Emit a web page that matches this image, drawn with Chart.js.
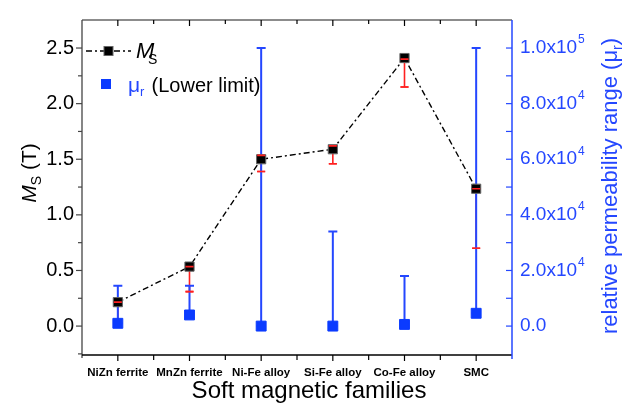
<!DOCTYPE html>
<html><head><meta charset="utf-8">
<script src="https://cdn.jsdelivr.net/npm/chart.js@4.4.0/dist/chart.umd.min.js"></script>
<style>html,body{margin:0;padding:0;background:#fff}#wrap{width:638px;height:409px;position:relative}</style>
</head><body><div id="wrap"><canvas id="c" width="638" height="409"></canvas></div>
<script>
const categories = ['NiZn ferrite','MnZn ferrite','Ni-Fe alloy','Si-Fe alloy','Co-Fe alloy','SMC'];
const msValues = [0.215, 0.535, 1.50, 1.59, 2.41, 1.235];
const msLow    = [0.01, 0.31, 1.39, 1.46, 2.15, 0.70];
const msHigh   = [0.215, 0.535, 1.535, 1.62, 2.40, 1.235];
const muLow    = [1000, 4000, 0, 0, 600, 4600];
const muHigh   = [14500, 14500, 100000, 34000, 18000, 100000];
const leftTicks = [0, 0.5, 1.0, 1.5, 2.0, 2.5];
const leftMinorTicks = [-0.25, 0.25, 0.75, 1.25, 1.75, 2.25];
const rightTicks = [0, 20000, 40000, 60000, 80000, 100000];
const rightMinorTicks = [10000, 30000, 50000, 70000, 90000];
const Y_MIN = -0.26, Y_MAX = 2.752, MU_PER_T = 40000;

const FONT = '"Liberation Sans", Arial, sans-serif';
const BLUE = '#2447ff';
const BLUE_SQ = '#0b3bff';
const RED = '#ff2020';

function vbar(ctx, x, y1, y2, hw) {
  ctx.beginPath();
  ctx.moveTo(x, y1); ctx.lineTo(x, y2);
  ctx.moveTo(x - hw, y1); ctx.lineTo(x + hw, y1);
  ctx.moveTo(x - hw, y2); ctx.lineTo(x + hw, y2);
  ctx.stroke();
}
function caps(ctx, x, y1, y2, hw) {
  ctx.beginPath();
  ctx.moveTo(x - hw, y1); ctx.lineTo(x + hw, y1);
  ctx.moveTo(x - hw, y2); ctx.lineTo(x + hw, y2);
  ctx.stroke();
}

const decor = {
  id: 'decor',
  beforeDatasetsDraw(chart) {
    const ctx = chart.ctx, xs = chart.scales.x, ys = chart.scales.y, y2 = chart.scales.y2;
    ctx.save();
    ctx.strokeStyle = RED; ctx.lineWidth = 1.6;
    categories.forEach((c, i) => {
      const x = xs.getPixelForValue(i);
      vbar(ctx, x, ys.getPixelForValue(msHigh[i]), ys.getPixelForValue(msLow[i]), 4);
    });
    ctx.strokeStyle = BLUE; ctx.lineWidth = 2;
    categories.forEach((c, i) => {
      const x = xs.getPixelForValue(i);
      vbar(ctx, x, y2.getPixelForValue(muHigh[i]), y2.getPixelForValue(muLow[i]), 4.5);
    });
    ctx.restore();
  },
  afterDatasetDraw(chart, args) {
    if (args.index !== 0) return;
    const ctx = chart.ctx, xs = chart.scales.x, ys = chart.scales.y;
    ctx.save();
    ctx.strokeStyle = RED; ctx.lineWidth = 1.6;
    categories.forEach((c, i) => {
      const x = xs.getPixelForValue(i);
      caps(ctx, x, ys.getPixelForValue(msHigh[i]), ys.getPixelForValue(msLow[i]), 4);
    });
    ctx.restore();
  },
  afterDraw(chart) {
    const ctx = chart.ctx, a = chart.chartArea;
    const xs = chart.scales.x, ys = chart.scales.y, y2 = chart.scales.y2;
    ctx.save();
    // frame
    ctx.lineWidth = 1.3;
    ctx.strokeStyle = '#666';
    ctx.beginPath(); ctx.moveTo(a.left, a.top); ctx.lineTo(a.right, a.top); ctx.stroke();
    ctx.strokeStyle = '#444';
    ctx.beginPath(); ctx.moveTo(a.left, a.top); ctx.lineTo(a.left, a.bottom + 3); ctx.stroke();
    ctx.strokeStyle = '#000';
    ctx.beginPath(); ctx.moveTo(a.left, a.bottom); ctx.lineTo(a.right, a.bottom); ctx.stroke();
    // x ticks (bottom outward, top inward)
    ctx.lineWidth = 1.2;
    for (let i = 0; i < categories.length; i++) {
      const x = xs.getPixelForValue(i);
      ctx.beginPath(); ctx.moveTo(x, a.bottom); ctx.lineTo(x, a.bottom + 6);
      ctx.moveTo(x, a.top); ctx.lineTo(x, a.top + 6); ctx.stroke();
    }
    for (let i = 0; i < categories.length - 1; i++) {
      const x = xs.getPixelForValue(i + 0.5);
      ctx.beginPath(); ctx.moveTo(x, a.bottom); ctx.lineTo(x, a.bottom + 5);
      ctx.moveTo(x, a.top); ctx.lineTo(x, a.top + 4); ctx.stroke();
    }
    // left ticks
    ctx.strokeStyle = '#444';
    leftTicks.forEach(v => { const y = ys.getPixelForValue(v); ctx.beginPath(); ctx.moveTo(a.left, y); ctx.lineTo(a.left - 6, y); ctx.stroke(); });
    leftMinorTicks.forEach(v => { const y = ys.getPixelForValue(v); ctx.beginPath(); ctx.moveTo(a.left, y); ctx.lineTo(a.left - 4, y); ctx.stroke(); });
    // right axis
    ctx.strokeStyle = BLUE; ctx.lineWidth = 1.5;
    ctx.beginPath(); ctx.moveTo(a.right, a.top); ctx.lineTo(a.right, a.bottom + 4); ctx.stroke();
    ctx.lineWidth = 1.2;
    rightTicks.concat(rightMinorTicks).forEach(v => { const y = y2.getPixelForValue(v); ctx.beginPath(); ctx.moveTo(a.right, y); ctx.lineTo(a.right - 6, y); ctx.stroke(); });
    // right tick labels with superscripts
    ctx.fillStyle = BLUE; ctx.textBaseline = 'middle'; ctx.textAlign = 'left';
    rightTicks.forEach(v => {
      const y = y2.getPixelForValue(v);
      const lx = a.right + 8;
      ctx.font = '19px ' + FONT;
      if (v === 0) { ctx.fillText('0.0', lx, y); return; }
      const e = Math.floor(Math.log10(v));
      const m = (v / Math.pow(10, e)).toFixed(1) + 'x10';
      ctx.fillText(m, lx, y);
      const w = ctx.measureText(m).width;
      ctx.font = '12px ' + FONT;
      ctx.fillText(String(e), lx + w + 1, y - 8);
    });
    // x title
    ctx.fillStyle = '#000'; ctx.textAlign = 'center'; ctx.textBaseline = 'alphabetic';
    ctx.font = '24px ' + FONT;
    ctx.fillText('Soft magnetic families', 309, 398);
    // left title (rotated)
    ctx.save();
    ctx.translate(36, 173); ctx.rotate(-Math.PI / 2);
    const p1 = 'M', p3 = ' (T)';
    ctx.font = 'italic 21px ' + FONT; const w1 = ctx.measureText(p1).width;
    ctx.font = '14px ' + FONT; const w2 = ctx.measureText('S').width;
    ctx.font = '21px ' + FONT; const w3 = ctx.measureText(p3).width;
    let sx = -(w1 + w2 + w3) / 2;
    ctx.textAlign = 'left';
    ctx.font = 'italic 21px ' + FONT; ctx.fillText(p1, sx, 0); sx += w1;
    ctx.font = '14px ' + FONT; ctx.fillText('S', sx, 5); sx += w2;
    ctx.font = '21px ' + FONT; ctx.fillText(p3, sx, 0);
    ctx.restore();
    // right title (rotated)
    ctx.save();
    ctx.translate(617, 186); ctx.rotate(-Math.PI / 2);
    ctx.fillStyle = BLUE; ctx.textAlign = 'left';
    const r1 = 'relative permeability range (\u03bc', r3 = ')';
    ctx.font = '22px ' + FONT; const q1 = ctx.measureText(r1).width, q3 = ctx.measureText(r3).width;
    ctx.font = '14px ' + FONT; const q2 = ctx.measureText('r').width;
    let tx = -(q1 + q2 + q3) / 2;
    ctx.font = '22px ' + FONT; ctx.fillText(r1, tx, 0); tx += q1;
    ctx.font = '14px ' + FONT; ctx.fillText('r', tx, 5); tx += q2;
    ctx.font = '22px ' + FONT; ctx.fillText(r3, tx, 0);
    ctx.restore();
    // legend
    ctx.strokeStyle = '#000'; ctx.lineWidth = 1.4; ctx.setLineDash([6, 3, 2, 3]);
    ctx.beginPath(); ctx.moveTo(86, 51); ctx.lineTo(131, 51); ctx.stroke();
    ctx.setLineDash([]);
    ctx.fillStyle = '#000'; ctx.fillRect(104, 46.5, 9, 9);
    ctx.strokeStyle = '#666'; ctx.lineWidth = 1; ctx.strokeRect(104, 46.5, 9, 9);
    ctx.textAlign = 'left'; ctx.textBaseline = 'alphabetic';
    ctx.font = 'italic 22px ' + FONT; ctx.fillText('M', 136, 58);
    ctx.font = '14px ' + FONT; ctx.fillText('S', 148, 64);
    ctx.fillStyle = BLUE_SQ; ctx.fillRect(101, 79, 10, 10);
    ctx.fillStyle = BLUE; ctx.font = '21px ' + FONT; ctx.fillText('\u03bc', 128, 92);
    ctx.font = '13px ' + FONT; ctx.fillText('r', 140, 96);
    ctx.fillStyle = '#000'; ctx.font = '20px ' + FONT; ctx.fillText(' (Lower limit)', 146, 92);
    ctx.restore();
  }
};

new Chart(document.getElementById('c'), {
  type: 'line',
  data: {
    labels: categories,
    datasets: [
      {
        label: 'Ms', data: msValues, yAxisID: 'y', order: 2,
        borderColor: '#000', borderWidth: 1.4, borderDash: [6, 3, 2, 3], tension: 0,
        pointStyle: 'rect', pointRadius: 6.5, pointBackgroundColor: '#000',
        pointBorderColor: '#666', pointBorderWidth: 1, fill: false
      },
      {
        label: 'mu', data: muLow, yAxisID: 'y2', order: 1, showLine: false,
        pointStyle: 'rect', pointRadius: 7, pointBackgroundColor: BLUE_SQ,
        pointBorderColor: BLUE_SQ, pointBorderWidth: 1
      }
    ]
  },
  options: {
    responsive: false, animation: false, devicePixelRatio: 1,
    layout: { padding: { top: 8, left: 0, right: 0, bottom: 0 } },
    plugins: { legend: { display: false }, tooltip: { enabled: false } },
    scales: {
      x: {
        type: 'category', offset: true,
        grid: { display: false, drawTicks: false }, border: { display: false },
        ticks: { font: { family: FONT, size: 11.5, weight: 'bold' }, color: '#000', padding: 11, maxRotation: 0, autoSkip: false },
        afterFit(s) { s.height = 54; }
      },
      y: {
        position: 'left', min: Y_MIN, max: Y_MAX,
        grid: { display: false, drawTicks: false }, border: { display: false },
        afterBuildTicks(s) { s.ticks = leftTicks.map(v => ({ value: v })); },
        ticks: { callback: v => Number(v).toFixed(1), font: { family: FONT, size: 20 }, color: '#000', padding: 8 },
        afterFit(s) { s.width = 82; }
      },
      y2: {
        position: 'right', min: Y_MIN * MU_PER_T, max: Y_MAX * MU_PER_T,
        grid: { display: false, drawTicks: false }, border: { display: false },
        afterBuildTicks(s) { s.ticks = rightTicks.map(v => ({ value: v })); },
        ticks: { display: false },
        afterFit(s) { s.width = 126; }
      }
    }
  },
  plugins: [decor]
});
</script></body></html>
